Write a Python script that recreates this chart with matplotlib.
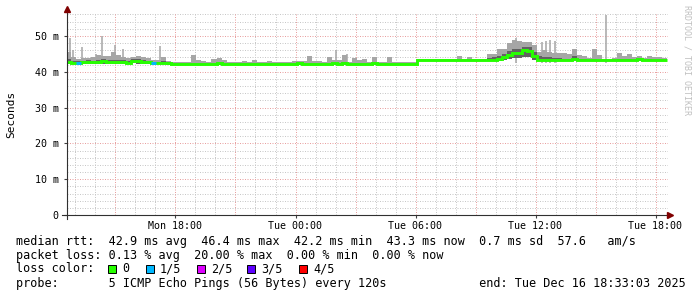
import numpy as np
import matplotlib.pyplot as plt
from matplotlib.patches import Rectangle
from matplotlib.lines import Line2D

# time axis in hours since Mon 00:00, one value every 15 minutes
start_hour = 12.55
step_hours = 0.25

median_rtt = [
    42.6, 42.5, 42.4, 42.6, 42.7, 42.6, 42.8, 42.9, 42.7, 42.8,
    42.6, 42.7, 42.5, 43.0, 42.9, 42.7, 42.6, 42.5, 42.5, 42.5,
    42.4, 42.3, 42.3, 42.3, 42.2, 42.3, 42.3, 42.3, 42.2, 42.3,
    42.4, 42.3, 42.2, 42.2, 42.3, 42.3, 42.2, 42.3, 42.2, 42.2,
    42.3, 42.2, 42.2, 42.3, 42.3, 42.3, 42.4, 42.3, 42.3, 42.3,
    42.3, 42.2, 42.3, 42.4, 42.3, 42.4, 42.3, 42.3, 42.3, 42.3,
    42.3, 42.4, 42.3, 42.2, 42.3, 42.2, 42.2, 42.2, 42.3, 42.3,
    43.2, 43.3, 43.3, 43.2, 43.2, 43.3, 43.3, 43.3, 43.2, 43.3,
    43.3, 43.3, 43.2, 43.3, 43.3, 43.3, 43.5, 44.2, 44.8, 45.3,
    45.3, 46.2, 45.8, 44.5, 43.4, 43.3, 43.4, 43.3, 43.3, 43.4,
    43.3, 43.5, 43.3, 43.3, 43.2, 43.3, 43.2, 43.3, 43.3, 43.3,
    43.2, 43.4, 43.3, 43.3, 43.5, 43.3, 43.3, 43.2, 43.2, 43.2,
]
smoke_max = [
    45.6, 44.0, 43.5, 43.8, 43.8, 44.0, 44.6, 44.5, 44.5, 45.5,
    44.6, 44.0, 43.8, 44.2, 44.3, 44.0, 43.8, 43.4, 43.3, 44.0,
    43.0, 42.6, 42.6, 42.6, 42.6, 44.6, 43.2, 43.0, 42.6, 43.5,
    43.9, 43.2, 42.6, 42.6, 42.6, 43.0, 42.6, 43.2, 42.6, 42.6,
    43.0, 42.6, 42.6, 42.6, 42.6, 43.0, 43.1, 43.0, 44.4, 42.9,
    43.0, 42.6, 44.2, 43.2, 43.2, 44.7, 42.6, 43.9, 43.2, 43.5,
    42.6, 44.2, 42.6, 42.6, 44.0, 42.6, 42.6, 42.6, 42.6, 42.6,
    43.6, 43.7, 43.6, 43.5, 43.5, 43.5, 43.5, 43.6, 44.5, 43.6,
    44.0, 43.6, 43.5, 43.6, 45.0, 45.0, 46.3, 46.5, 47.9, 49.0,
    48.5, 48.4, 48.4, 47.5, 45.5, 46.0, 45.5, 45.3, 45.3, 45.3,
    45.0, 46.5, 44.7, 44.4, 43.8, 46.3, 44.7, 43.6, 43.6, 43.8,
    45.3, 44.4, 45.0, 44.0, 44.5, 43.9, 44.3, 44.0, 44.0, 43.9,
]
smoke_mid = [
    43.5, 43.0, 42.9, 43.0, 43.2, 43.1, 43.3, 43.5, 43.3, 43.4,
    43.2, 43.2, 42.9, 43.5, 43.5, 43.2, 43.0, 42.8, 42.8, 42.9,
    42.6, 42.3, 42.3, 42.3, 42.2, 42.3, 42.3, 42.3, 42.2, 42.3,
    42.4, 42.3, 42.2, 42.2, 42.3, 42.3, 42.2, 42.3, 42.2, 42.2,
    42.3, 42.2, 42.2, 42.3, 42.3, 42.3, 42.4, 42.3, 42.3, 42.3,
    42.3, 42.2, 42.3, 42.4, 42.3, 42.8, 42.3, 42.3, 42.3, 42.3,
    42.3, 42.4, 42.3, 42.2, 42.3, 42.2, 42.2, 42.2, 42.3, 42.3,
    43.2, 43.3, 43.3, 43.2, 43.2, 43.3, 43.3, 43.3, 43.2, 43.3,
    43.3, 43.3, 43.2, 43.3, 43.8, 44.0, 44.5, 45.0, 45.8, 46.5,
    46.5, 47.0, 46.8, 45.5, 44.3, 44.0, 44.0, 43.8, 43.8, 43.7,
    43.5, 44.3, 43.5, 43.5, 43.3, 43.6, 43.4, 43.3, 43.3, 43.4,
    43.5, 43.6, 43.5, 43.4, 43.7, 43.4, 43.5, 43.3, 43.3, 43.3,
]
smoke_min = [
    42.2, 42.1, 42.1, 42.2, 42.2, 42.2, 42.3, 42.3, 42.2, 42.3,
    42.2, 42.2, 42.1, 42.4, 42.3, 42.2, 42.2, 42.1, 42.1, 42.1,
    42.0, 42.0, 42.0, 42.0, 42.0, 42.0, 42.0, 42.0, 42.0, 42.0,
    42.0, 42.0, 42.0, 42.0, 42.0, 42.0, 42.0, 42.0, 42.0, 42.0,
    42.0, 42.0, 42.0, 42.0, 42.0, 42.0, 42.0, 42.0, 42.0, 42.0,
    42.0, 42.0, 42.0, 42.0, 42.0, 42.0, 42.0, 42.0, 42.0, 42.0,
    42.0, 42.0, 42.0, 42.0, 42.0, 42.0, 42.0, 42.0, 42.0, 42.0,
    43.0, 43.0, 43.0, 43.0, 43.0, 43.0, 43.0, 43.0, 43.0, 43.0,
    43.0, 43.0, 43.0, 43.0, 43.0, 43.0, 43.0, 43.2, 43.5, 43.8,
    43.8, 44.2, 44.0, 43.3, 43.0, 43.0, 43.0, 43.0, 43.0, 43.0,
    43.0, 43.0, 43.0, 43.0, 43.0, 43.0, 43.0, 43.0, 43.0, 43.0,
    43.0, 43.0, 43.0, 43.0, 43.0, 43.0, 43.0, 43.0, 43.0, 43.0,
]
loss_steps = [2, 17]   # steps with 1/5 packets lost

spike_hours = [12.75, 12.9, 13.33, 14.05, 14.34, 14.98, 15.38, 17.23,
               26.0, 26.55, 35.0, 36.3, 36.5, 36.7, 36.95, 39.53]
spike_rtt = [49.4, 46.1, 47.0, 45.0, 50.0, 47.5, 46.5, 47.3,
             46.1, 45.0, 49.3, 48.4, 48.6, 48.9, 48.7, 55.9]

tick_hours = [18, 24, 30, 36, 42]
tick_labels = ['Mon 18:00', 'Tue 00:00', 'Tue 06:00', 'Tue 12:00', 'Tue 18:00']
y_ticks = [0, 10, 20, 30, 40, 50]
y_labels = ['0', '10 m', '20 m', '30 m', '40 m', '50 m']

loss_names = ['0', '1/5', '2/5', '3/5', '4/5']
loss_colors = ['#26ff00', '#00b8ff', '#dd00ff', '#5e00ff', '#ff0000']

legend_lines = [
    'median rtt:  42.9 ms avg  46.4 ms max  42.2 ms min  43.3 ms now  0.7 ms sd  57.6   am/s',
    'packet loss: 0.13 % avg  20.00 % max  0.00 % min  0.00 % now',
    'loss color:',
    'probe:       5 ICMP Echo Pings (56 Bytes) every 120s             end: Tue Dec 16 18:33:03 2025',
]

W, H = 697, 297
mono = 'DejaVu Sans Mono'


def px(x, y):
    return x / W, 1 - y / H


fig = plt.figure(figsize=(W / 100, H / 100), dpi=100)
ax = fig.add_axes([66.5 / W, 82 / H, 601.5 / W, 202.3 / H])
ax.set_xlim(start_hour, start_hour + 601.5 / 20)
ax.set_ylim(0, 56.5)

# grid
for v in range(2, 57, 2):
    if v % 10:
        ax.axhline(v, color='#c8c8c8', lw=0.72, ls=(0, (1, 1.5)), zorder=0)
for h in range(13, 43):
    if h % 3:
        ax.axvline(h, color='#c8c8c8', lw=0.72, ls=(0, (1, 1.5)), zorder=0)
for v in range(10, 56, 10):
    ax.axhline(v, color='#e8a0a0', lw=0.72, ls=(0, (1, 1.5)), zorder=0.5)
for h in range(15, 43, 3):
    ax.axvline(h, color='#e8a0a0', lw=0.72, ls=(0, (1, 1.5)), zorder=0.5)

edges = start_hour + step_hours * np.arange(len(median_rtt) + 1)
ax.stairs(smoke_max, edges, baseline=smoke_min, fill=True, color='#a6a6a6', zorder=2)
ax.vlines(spike_hours, 42.5, spike_rtt, color='#a6a6a6', lw=1.1, zorder=2)
ax.stairs(smoke_mid, edges, baseline=smoke_min, fill=True, color='#626262', zorder=3)
ax.stairs(median_rtt, edges, baseline=None, color=loss_colors[0], lw=2.1, zorder=4)
for i in loss_steps:
    ax.hlines(median_rtt[i], edges[i], edges[i + 1], color=loss_colors[1], lw=2.1, zorder=5)

for s in ax.spines.values():
    s.set_visible(False)
ax.set_xticks(tick_hours)
ax.set_xticklabels(tick_labels, fontfamily=mono, fontsize=7.2)
ax.set_yticks(y_ticks)
ax.set_yticklabels(y_labels, fontfamily=mono, fontsize=7.2)
ax.tick_params(axis='x', length=2, pad=2.5, color='#404040')
ax.tick_params(axis='y', length=2, pad=3.5, color='#404040')

# axes with arrows
fig.add_artist(Line2D([px(62, 0)[0], px(668, 0)[0]], [px(0, 215)[1]] * 2, color='#303030', lw=0.8))
fig.add_artist(Line2D([px(66.5, 0)[0]] * 2, [px(0, 219)[1], px(0, 10)[1]], color='#303030', lw=0.8))
fig.add_artist(Line2D([px(670, 0)[0]], [px(0, 215)[1]], marker='>', ms=4.5, color='#800000', ls=''))
fig.add_artist(Line2D([px(66.5, 0)[0]], [px(0, 9)[1]], marker='^', ms=4.5, color='#800000', ls=''))

fig.text(*px(11, 114), 'Seconds', rotation=90, ha='center', va='center', fontfamily=mono, fontsize=8)
fig.text(*px(687, 5), 'RRDTOOL / TOBI OETIKER', rotation=-90, ha='center', va='top',
         fontfamily=mono, fontsize=6, color='#c0c0c0')

# legend block
for y, s in zip([241, 255, 269, 283.5], legend_lines):
    fig.text(*px(16, y), s, ha='left', va='center', fontfamily=mono, fontsize=8.5)

box_x = [108.3, 145.7, 196.7, 247.3, 299]
for bx, name, c in zip(box_x, loss_names, loss_colors):
    x0, y0 = px(bx, 273)
    fig.add_artist(Rectangle((x0, y0), 8 / W, 8 / H, transform=fig.transFigure,
                             facecolor=c, edgecolor='black', lw=0.7))
    fig.text(*px(bx + 14, 269), name, ha='left', va='center', fontfamily=mono, fontsize=8.5)

plt.savefig('out.png', dpi=100)
plt.close()
